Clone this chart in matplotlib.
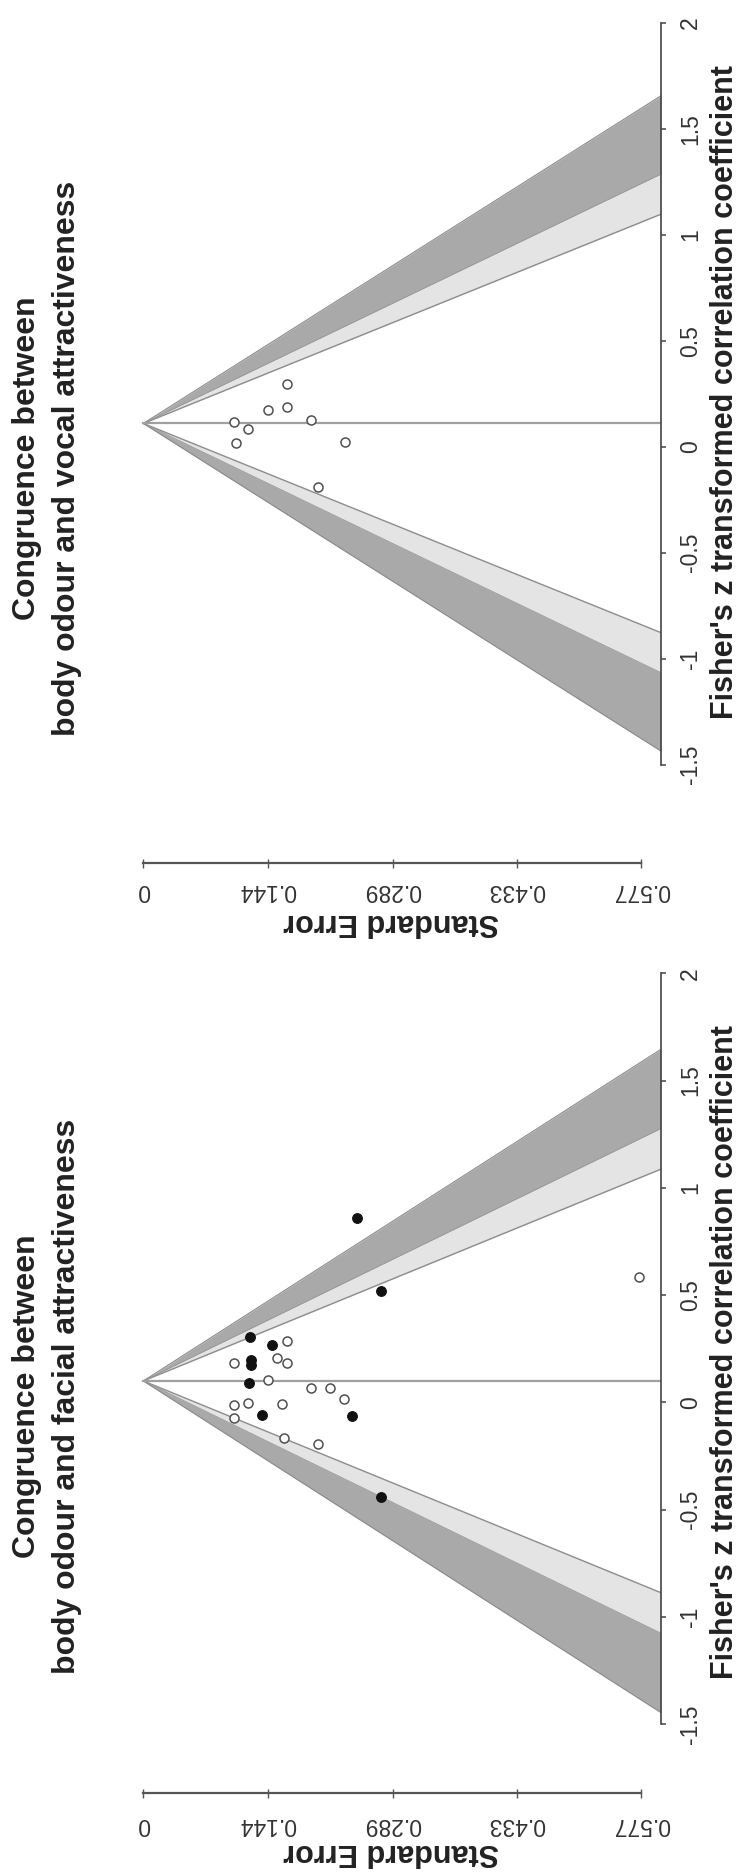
import numpy as np
import matplotlib
matplotlib.use("Agg")
import matplotlib.pyplot as plt

plt.rcParams['font.family'] = ['Liberation Sans', 'DejaVu Sans']

# ---------------- data ----------------
z_ticks = [-1.5, -1, -0.5, 0, 0.5, 1, 1.5, 2]
z_tick_labels = ["-1.5", "-1", "-0.5", "0", "0.5", "1", "1.5", "2"]
se_ticks = [0, 0.144, 0.289, 0.433, 0.577]
se_tick_labels = ["0", "0.144", "0.289", "0.433", "0.577"]
contour_levels = [1.645, 1.96, 2.576]   # 90 %, 95 %, 99 %

# body odour vs vocal attractiveness (top panel)
vocal_se = [0.166, 0.145, 0.167, 0.105, 0.121, 0.194, 0.107, 0.234, 0.202]
vocal_z = [0.296, 0.173, 0.189, 0.118, 0.082, 0.126, 0.016, 0.024, -0.188]
vocal_center = 0.11

# body odour vs facial attractiveness (bottom panel)
facial_filled_se = [0.124, 0.149, 0.125, 0.125, 0.123, 0.137, 0.242, 0.248, 0.276, 0.276]
facial_filled_z = [0.306, 0.267, 0.198, 0.174, 0.092, -0.059, -0.063, 0.858, 0.519, -0.439]
facial_open_se = [0.166, 0.105, 0.155, 0.166, 0.145, 0.194, 0.216, 0.233, 0.105,
                  0.121, 0.161, 0.105, 0.163, 0.202, 0.575]
facial_open_z = [0.288, 0.182, 0.206, 0.182, 0.104, 0.068, 0.066, 0.014, -0.012,
                 -0.004, -0.007, -0.074, -0.167, -0.194, 0.586]
facial_center = 0.10

title_line1 = "Congruence between"
vocal_title2 = "body odour and vocal attractiveness"
facial_title2 = "body odour and facial attractiveness"
z_label = "Fisher's z transformed correlation coefficient"
se_label = "Standard Error"

# ---------------- layout ----------------
W, H = 742, 1876
fig = plt.figure(figsize=(W / 100, H / 100), dpi=100)
fig.patch.set_facecolor("white")
PT = 0.72  # points per pixel at 100 dpi


def fx(px):
    return px / W


def fy(py):
    return 1 - py / H


SE_LIM = (-0.023, 0.6)
Z_LIM = (-1.6, 2.1)
LEFT, RIGHT = 123.5, 661.0

DARK = "#a9a9a9"
LIGHT = "#e4e4e4"
EDGE = "#7a7a7a"


def panel(top_px, bottom_px, se_axis_py, se_lab_pad_px, title2, title_yc,
          zlab_yc, selab_py, center, open_se, open_z, fill_se=None, fill_z=None):
    ax = fig.add_axes([fx(LEFT), fy(bottom_px), (RIGHT - LEFT) / W,
                       (bottom_px - top_px) / H])
    ax.set_xlim(*SE_LIM)
    ax.set_ylim(*Z_LIM)
    ax.set_facecolor("white")

    se = np.linspace(0, SE_LIM[1], 200)
    k90, k95, k99 = contour_levels
    for sgn in (1, -1):
        ax.fill_between(se, center + sgn * k95 * se, center + sgn * k99 * se,
                        color=DARK, lw=0, zorder=1)
        ax.fill_between(se, center + sgn * k90 * se, center + sgn * k95 * se,
                        color=LIGHT, lw=0, zorder=1)
        for k, c, lw in ((k90, "#8c8c8c", 1.0), (k95, "#9a9a9a", 0.7), (k99, "#8a8a8a", 0.8)):
            ax.plot(se, center + sgn * k * se, color=c, lw=lw, zorder=2)
    ax.plot([0, SE_LIM[1]], [center, center], color="#a0a0a0", lw=1.6, zorder=2)

    ax.plot(open_se, open_z, linestyle="none", marker="o", markersize=6.5,
            markerfacecolor="white", markeredgecolor="#505050",
            markeredgewidth=1.1, zorder=3)
    if fill_se is not None:
        ax.plot(fill_se, fill_z, linestyle="none", marker="o", markersize=7,
                markerfacecolor="#111111", markeredgecolor="#111111",
                markeredgewidth=0.8, zorder=4)

    for s in ("top", "left"):
        ax.spines[s].set_visible(False)
    # z axis (right side)
    ax.spines["right"].set_bounds(-1.5, 2)
    ax.spines["right"].set_color("#444444")
    ax.spines["right"].set_linewidth(1.2)
    ax.yaxis.tick_right()
    ax.set_yticks(z_ticks)
    ax.set_yticklabels(z_tick_labels)
    ax.tick_params(axis="y", direction="out", length=5 * PT, width=1.1,
                   color="#444444", labelsize=16.5, labelcolor="#333333",
                   pad=13 * PT, labelrotation=90)
    for t in ax.yaxis.get_major_ticks():
        t.label2.set_verticalalignment("center")
        t.label2.set_horizontalalignment("left")
    # SE axis (detached, below)
    ax.spines["bottom"].set_position(("outward", (se_axis_py - bottom_px) * PT))
    ax.spines["bottom"].set_bounds(0, 0.577)
    ax.spines["bottom"].set_color("#555555")
    ax.spines["bottom"].set_linewidth(1.6)
    ax.set_xticks(se_ticks)
    ax.set_xticklabels(se_tick_labels)
    ax.tick_params(axis="x", direction="inout", length=9 * PT, width=1.0,
                   color="#555555", labelsize=16.5, labelcolor="#333333",
                   pad=se_lab_pad_px * PT, labelrotation=180)

    fig.text(fx(27), fy(title_yc), title_line1, rotation=90, ha="center",
             va="center", fontsize=23, fontweight="bold", color="#222222")
    fig.text(fx(67), fy(title_yc), title2, rotation=90, ha="center",
             va="center", fontsize=23, fontweight="bold", color="#222222")
    fig.text(fx(725), fy(zlab_yc), z_label, rotation=90, ha="center",
             va="center", fontsize=22, fontweight="bold", color="#222222")
    fig.text(fx(391), fy(selab_py), se_label, rotation=180, ha="center",
             va="center", fontsize=22, fontweight="bold", color="#222222")
    return ax


# top panel (vocal): z=0 at py 446.75, 212 px per unit
top_a = 446.75 - 212.0 * Z_LIM[1]
bot_a = 446.75 - 212.0 * Z_LIM[0]
panel(top_a, bot_a, 863, 12, vocal_title2, 458, 392, 922, vocal_center,
      vocal_se, vocal_z)

# bottom panel (facial): z=0 at py 1402.4, 214.6 px per unit
top_b = 1402.4 - 214.6 * Z_LIM[1]
bot_b = 1402.4 - 214.6 * Z_LIM[0]
panel(top_b, bot_b, 1793, 15, facial_title2, 1396, 1352, 1852, facial_center,
      facial_open_se, facial_open_z, facial_filled_se, facial_filled_z)

fig.savefig("out.png", dpi=100, facecolor="white")
